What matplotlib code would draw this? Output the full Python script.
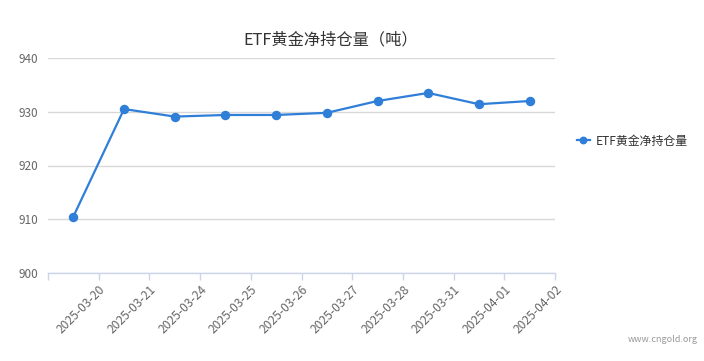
import matplotlib
matplotlib.use("Agg")
import matplotlib.pyplot as plt

plt.rcParams['font.family'] = ['Noto Sans CJK SC', 'DejaVu Sans']

dates = ["2025-03-20", "2025-03-21", "2025-03-24", "2025-03-25", "2025-03-26",
         "2025-03-27", "2025-03-28", "2025-03-31", "2025-04-01", "2025-04-02"]
holdings = [910.5, 930.5, 929.1, 929.4, 929.4, 929.8, 932.0, 933.5, 931.4, 932.0]
y_ticks = [900, 910, 920, 930, 940]
series_name = "ETF黄金净持仓量"
title = "ETF黄金净持仓量（吨）"

fig = plt.figure(figsize=(7.04, 3.61), dpi=100)
ax = fig.add_axes([48/704, 1-273/361, (555-48)/704, (273-58)/361])

x = list(range(len(dates)))
line_color = "#2f7ed8"
ax.plot(x, holdings, color=line_color, lw=1.6, marker='o', markersize=5.8,
        label=series_name, zorder=3, clip_on=False)

ax.set_xlim(-0.5, len(dates) - 0.5)
ax.set_ylim(y_ticks[0], y_ticks[-1])
ax.set_yticks(y_ticks)
ax.set_yticklabels([str(v) for v in y_ticks], fontsize=8.5, color="#666666")
ax.tick_params(axis='y', length=0, pad=7)
ax.grid(axis='y', color="#d8d8d8", lw=1)
ax.set_axisbelow(True)

ticks = [i - 0.5 for i in range(len(dates) + 1)]
ax.set_xticks(ticks)
ax.set_xticklabels([""] + dates, rotation=45, ha='right', rotation_mode='anchor',
                   fontsize=8.7, color="#666666")
ax.tick_params(axis='x', length=5, color="#ccd6eb", width=1, pad=2)

for s in ['top', 'right', 'left']:
    ax.spines[s].set_visible(False)
ax.spines['bottom'].set_color("#ccd6eb")
ax.spines['bottom'].set_linewidth(1)

fig.text(331/704, 1-40/361, title, ha='center', va='center', fontsize=11.7, color="#333333")

leg = fig.legend(loc='center left', bbox_to_anchor=(566/704, 1-141/361), frameon=False,
                 fontsize=8.6, handlelength=1.1, handletextpad=0.45, markerscale=0.8)
for t in leg.get_texts():
    t.set_color("#333333")

fig.text(698/704, 1-340/361, "www.cngold.org", ha='right', va='center', fontsize=6.5, color="#999999")

fig.savefig("out.png", dpi=100)
